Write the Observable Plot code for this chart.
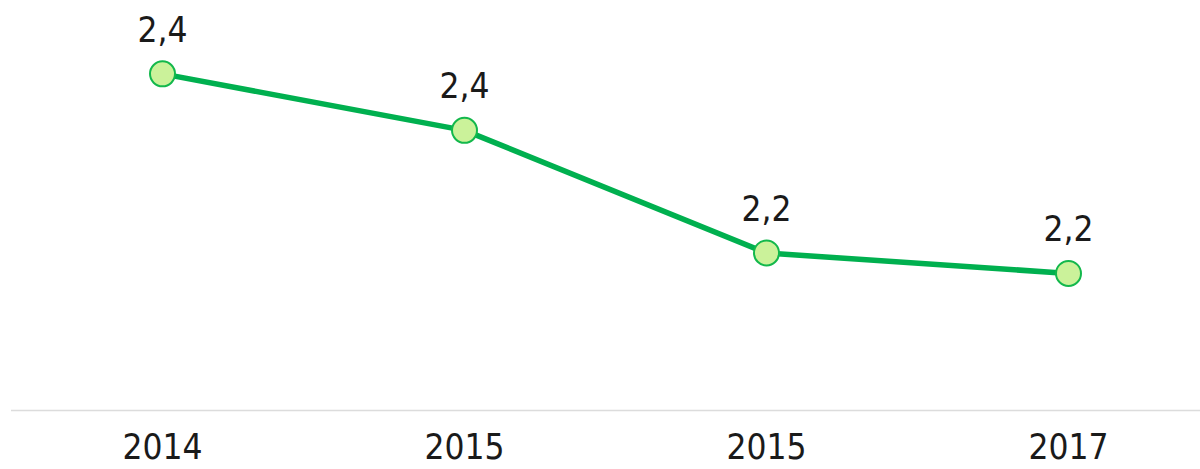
<!DOCTYPE html>
<html>
<head>
<meta charset="utf-8">
<script src="https://cdn.jsdelivr.net/npm/d3@7"></script>
<script src="https://cdn.jsdelivr.net/npm/@observablehq/plot@0.6"></script>
<style>
  html, body { margin: 0; padding: 0; background: #fff; }
  #chart svg { display: block; }
</style>
</head>
<body>
<div id="chart"></div>
<script>
const years = ["2014", "2015", "2015", "2017"];
const values = [2.398, 2.351, 2.249, 2.232];

const data = values.map((v, i) => ({i, year: years[i], value: v, label: v.toFixed(1).replace(".", ",")}));

const chart = Plot.plot({
  width: 1200,
  height: 469,
  marginLeft: 11,
  marginRight: 0,
  marginTop: 0,
  marginBottom: 59,
  style: "font-family: 'DejaVu Sans Condensed', 'DejaVu Sans', sans-serif; font-stretch: condensed; font-size: 36px; color: #1a1a1a; background: #fff;",
  x: {type: "point", domain: data.map(d => d.i), range: [162, 1068], padding: 0, label: null},
  y: {domain: [2.118, 2.459], axis: null},
  marks: [
    Plot.ruleY([2.118], {stroke: "#dcdcdc", strokeWidth: 1.5}),
    Plot.axisX({tickSize: 0, tickPadding: 24, tickFormat: i => years[i], fontSize: 35, fill: "#1a1a1a", label: null}),
    Plot.line(data, {x: "i", y: "value", stroke: "#00b04f", strokeWidth: 5.5}),
    Plot.dot(data, {x: "i", y: "value", r: 12.5, fill: "#cbf29a", stroke: "#13b84c", strokeWidth: 2}),
    Plot.text(data, {x: "i", y: "value", text: "label", lineAnchor: "bottom", dy: -32, fontSize: 35, fill: "#1a1a1a"})
  ]
});
document.getElementById("chart").append(chart);
</script>
</body>
</html>
